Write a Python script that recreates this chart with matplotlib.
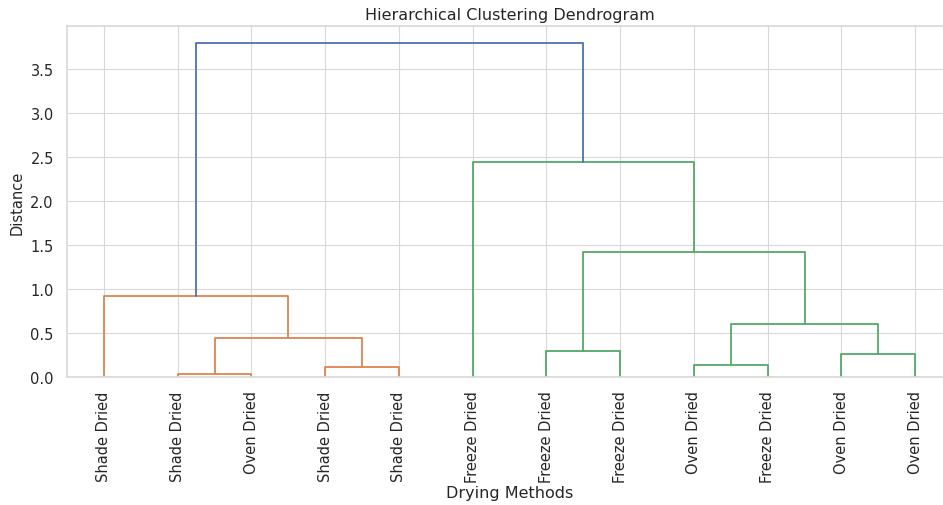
import matplotlib.pyplot as plt
import seaborn as sns

sns.set_theme(style="whitegrid")

# leaf labels in dendrogram order
labels = ["Shade Dried", "Shade Dried", "Oven Dried", "Shade Dried", "Shade Dried",
          "Freeze Dried", "Freeze Dried", "Freeze Dried", "Oven Dried", "Freeze Dried",
          "Oven Dried", "Oven Dried"]

# merges (left node, right node, distance); leaves are 0..11, new nodes get 12, 13, ...
merge_left = [1, 3, 8, 10, 6, 12, 14, 0, 16, 5, 19]
merge_right = [2, 4, 9, 11, 7, 13, 15, 17, 18, 20, 21]
merge_dist = [0.03, 0.11, 0.14, 0.26, 0.30, 0.44, 0.60, 0.92, 1.42, 2.44, 3.80]

n = len(labels)
threshold = 0.7 * max(merge_dist)

# x position / height of every node, scipy style (leaf i at 10*i + 5)
xpos = {i: 10 * i + 5 for i in range(n)}
ypos = {i: 0.0 for i in range(n)}
for k, (a, b, d) in enumerate(zip(merge_left, merge_right, merge_dist)):
    xpos[n + k] = (xpos[a] + xpos[b]) / 2
    ypos[n + k] = d

# clusters below the threshold get their own colour, links above stay C0
node_color = {}
cluster_roots = []
for k in range(len(merge_dist) - 1, -1, -1):
    node = n + k
    if node in node_color:
        continue
    if merge_dist[k] < threshold:
        cluster_roots.append(node)
        stack = [node]
        while stack:
            m = stack.pop()
            node_color[m] = node
            if m >= n:
                stack += [merge_left[m - n], merge_right[m - n]]
    else:
        node_color[node] = None

# number the colours left to right like scipy does
cluster_roots.sort(key=lambda r: xpos[r])
cmap = {r: "C%d" % (i + 1) for i, r in enumerate(cluster_roots)}
cmap[None] = "C0"

fig = plt.figure(figsize=(9.43, 5.06), dpi=100)
ax = fig.add_axes([67 / 943, 128 / 506, 885 / 943, 351 / 506])
ax.grid(True, color="#d9d9d9", lw=0.8)
for s in ax.spines.values():
    s.set_color("#d9d9d9")

for k, (a, b, d) in enumerate(zip(merge_left, merge_right, merge_dist)):
    c = cmap[node_color[n + k]]
    ax.plot([xpos[a], xpos[a], xpos[b], xpos[b]], [ypos[a], d, d, ypos[b]],
            color=c, lw=1.3)

ax.set_xlim(0, 10 * n)
ax.set_ylim(0, max(merge_dist) * 1.05)
ax.set_xticks([10 * i + 5 for i in range(n)])
ax.set_xticklabels(labels, rotation=90, fontsize=10.5)
ax.tick_params(axis="y", labelsize=10.5)
ax.set_title("Hierarchical Clustering Dendrogram", fontsize=11.5, pad=5)
ax.set_xlabel("Drying Methods", fontsize=11.5, labelpad=2)
ax.set_ylabel("Distance", fontsize=10.5, labelpad=4)

fig.savefig("out.png", dpi=100)
